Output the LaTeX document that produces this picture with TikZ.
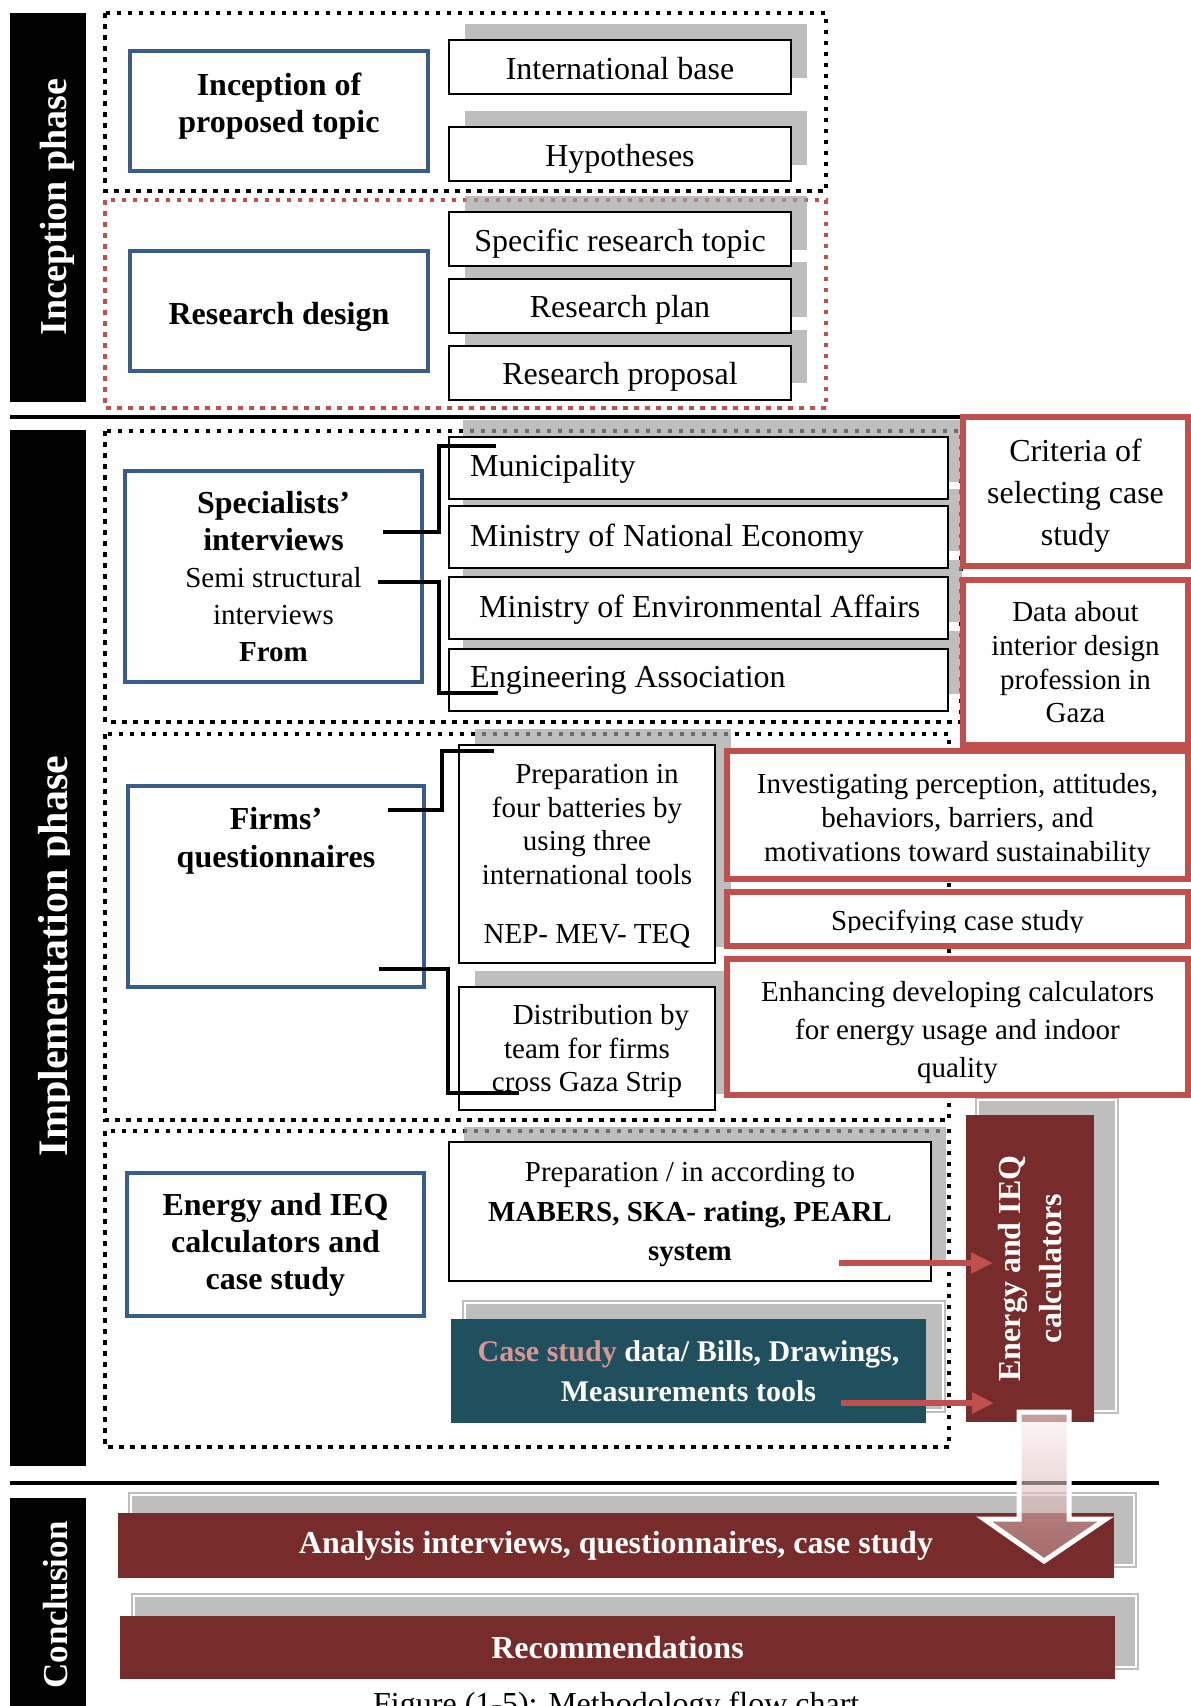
\documentclass[tikz,border=0pt]{standalone}
\usepackage{fontspec}
\setmainfont{Liberation Serif}
\usetikzlibrary{arrows.meta}
\definecolor{blueC}{RGB}{56,93,138}
\definecolor{redC}{RGB}{192,80,77}
\definecolor{maroonC}{RGB}{119,43,43}
\definecolor{tealC}{RGB}{32,80,93}
\definecolor{pinkC}{RGB}{217,150,148}
\definecolor{shadeC}{RGB}{160,160,160}
\definecolor{arrTop}{RGB}{252,240,240}
\definecolor{arrBot}{RGB}{200,150,150}
\newcommand\fsL{\fontsize{32}{37}\selectfont}
\newcommand\ghostrect[4]{\fill[shad] (#1,#2) rectangle (#3,#4);
  \draw[white, line width=1.2pt] (#1+3,#2+3) rectangle (#3-3,#4-3);}
\tikzset{
 wbox/.style={draw=black, line width=2pt, fill=white, inner sep=0pt, align=center, font=\fsL},
 bbox/.style={draw=blueC, line width=4.5pt, fill=white, inner sep=0pt, align=center, font=\fsL\bfseries},
 rbox/.style={draw=redC, line width=5.5pt, fill=white, inner sep=0pt, align=center},
 mbox/.style={fill=maroonC, inner sep=0pt, align=center, text=white, font=\fsL\bfseries},
 txt/.style={inner sep=0pt, align=center},
 rowtxt/.style={inner sep=0pt, anchor=base west, font=\fsL},
 onerow/.style={text height=24pt, text depth=0pt},
 phasetext/.style={rotate=90, anchor=base, text=white, inner sep=0pt},
 blackdots/.style={draw=black, line width=4.4pt, dash pattern=on 4.5pt off 6.5pt},
 reddots/.style={draw=redC, line width=4.4pt, dash pattern=on 4.5pt off 6.5pt},
 conn/.style={draw=black, line width=4.5pt},
 redarrow/.style={draw=redC, line width=5.5pt, -{Triangle[length=22pt,width=20pt]}},
 sep/.style={draw=black, line width=4.5pt},
 shad/.style={fill=shadeC, fill opacity=0.68},
}
\begin{document}
\begin{tikzpicture}[x=1pt,y=-1pt]
\useasboundingbox (0,0) rectangle (1191,1706);
\fill[white] (0,0) rectangle (1191,1706);

% phase bars
\fill[black] (10,13) rectangle (86,402);
\node[phasetext, font=\fontsize{38}{38}\selectfont\bfseries] (tInc) at (66,207) {Inception phase};
\fill[black] (10,430) rectangle (86,1466);
\begin{scope}
\clip (10,430) rectangle (69,1466);
\node[phasetext, font=\fontsize{42}{42}\selectfont\bfseries] (tImp) at (67,956) {Implementation phase};
\end{scope}
\fill[black] (10,1498) rectangle (86,1706);
\node[phasetext, font=\fontsize{35}{35}\selectfont\bfseries] (tCon) at (67,1605) {Conclusion};

% separators
\draw[sep] (10,417) -- (1188,417);
\draw[sep] (10,1483) -- (1159,1483);

% dotted group frames
\draw[blackdots] (105,13) rectangle (826,191);
\draw[reddots] (105,200) rectangle (826,408);
\draw[blackdots] (105,431) rectangle (961,722);
\draw[blackdots] (105,734) rectangle (949,1120);
\draw[blackdots] (105,1131) rectangle (949,1447);

% shadows
\fill[shad] (465,24) rectangle (807,78);
\fill[shad] (465,111) rectangle (807,165);
\fill[shad] (465,196) rectangle (807,250);
\fill[shad] (465,262) rectangle (807,317);
\fill[shad] (465,330) rectangle (807,383);
\fill[shad] (463,420) rectangle (962,482);
\fill[shad] (463,489) rectangle (962,551);
\fill[shad] (463,560) rectangle (962,622);
\fill[shad] (463,631) rectangle (962,694);
\fill[shad] (475,729) rectangle (731,947);
\fill[shad] (475,971) rectangle (731,1094);
\fill[shad] (464,1127) rectangle (946,1266);
\ghostrect{462}{1300}{946}{1413}
\ghostrect{975}{1097}{1119}{1414}
\ghostrect{128}{1492}{1137}{1568}
\ghostrect{131}{1593}{1139}{1670}

% inception phase
\node[bbox, minimum width=298pt, minimum height=120pt] (inc) at (279,111) {};
\node[txt, font=\fsL\bfseries] (inct) at (279,106) {Inception of\\proposed topic};
\node[bbox, minimum width=298pt, minimum height=120pt] (rd) at (279,311) {};
\node[txt, font=\fsL\bfseries] (rdt) at (279,316.5) {Research design};
\node[wbox, onerow, minimum width=342pt, minimum height=54pt] (ib) at (620,67) {International base};
\node[wbox, onerow, minimum width=342pt, minimum height=54pt] (hyp) at (620,154) {Hypotheses};
\node[wbox, onerow, minimum width=342pt, minimum height=54pt] (srt) at (620,239) {Specific research topic};
\node[wbox, onerow, minimum width=342pt, minimum height=54pt] (rp) at (620,305.5) {Research plan};
\node[wbox, onerow, minimum width=342pt, minimum height=54pt] (rpr) at (620,372.5) {Research proposal};

% specialists
\node[bbox, minimum width=297pt, minimum height=211pt] (sp) at (273.5,576.5)
 {Specialists’\\interviews\\{\fontsize{29}{37}\selectfont\mdseries Semi structural}\\{\fontsize{29}{37}\selectfont\mdseries interviews}\\{\fontsize{29}{37}\selectfont From}};
\node[wbox, minimum width=499pt, minimum height=62pt] (mun) at (698.5,468) {};
\node[rowtxt] (munt) at (470,476.5) {Municipality};
\node[wbox, minimum width=499pt, minimum height=62pt] (mne) at (698.5,537) {};
\node[rowtxt] (mnet) at (470,546) {Ministry of National Economy};
\node[wbox, minimum width=499pt, minimum height=62pt] (mea) at (698.5,608) {};
\node[rowtxt] (meat) at (479,617) {Ministry of Environmental Affairs};
\node[wbox, minimum width=499pt, minimum height=62pt] (ea) at (698.5,679.5) {};
\node[rowtxt] (eat) at (470,687.5) {Engineering Association};

% firms
\node[bbox, minimum width=296pt, minimum height=201pt] (fq) at (276,886.5) {};
\node[txt, font=\fontsize{32}{38}\selectfont\bfseries] (fqt) at (276,841) {Firms’\\questionnaires};
\node[wbox, minimum width=256pt, minimum height=218pt] (pb) at (587,854) {};
\node[txt, font=\fontsize{29}{33.7}\selectfont] (pbt) at (587,856)
 {\hspace*{20pt}Preparation in\\four batteries by\\using three\\international tools\\[25pt]NEP- MEV- TEQ};
\node[wbox, minimum width=256pt, minimum height=123pt] (db) at (587,1048.5) {};
\node[txt, font=\fontsize{29}{33.5}\selectfont] (dbt) at (587,1051.5)
 {\hspace*{28pt}Distribution by\\team for firms\\cross Gaza Strip};

% energy
\node[bbox, minimum width=297pt, minimum height=143pt] (eq) at (275.5,1244.5) {Energy and IEQ\\calculators and\\case study};
\node[wbox, line width=2.8pt, minimum width=482pt, minimum height=139pt] (mab) at (690,1211.5) {};
\node[txt, font=\fontsize{29}{39.5}\selectfont] (mabt) at (690,1214.5)
 {Preparation / in according to\\{\bfseries MABERS, SKA- rating, PEARL}\\{\bfseries system}};
\node[fill=tealC, inner sep=0pt, align=center, text=white, minimum width=475pt, minimum height=104pt, font=\fontsize{30}{40}\selectfont\bfseries] (cs) at (688.5,1371)
 {{\color{pinkC}Case study} data/ Bills, Drawings,\\Measurements tools};

% red boxes
\node[rbox, minimum width=225pt, minimum height=149pt] (crit) at (1075.5,491.5) {};
\node[txt, font=\fontsize{32}{42}\selectfont] (critt) at (1075.5,496) {Criteria of\\selecting case\\study};
\node[rbox, minimum width=225pt, minimum height=165pt, font=\fontsize{29}{33.7}\selectfont] (data) at (1075.5,662.5) {Data about\\interior design\\profession in\\Gaza};
\node[rbox, minimum width=461pt, minimum height=128pt] (inv) at (957.5,815) {};
\node[txt, font=\fontsize{29}{34}\selectfont] (invt) at (957.5,821)
 {Investigating perception, attitudes,\\behaviors, barriers, and\\motivations toward sustainability};
\node[rbox, minimum width=461pt, minimum height=54pt] (spec) at (957.5,919) {};
\begin{scope}
\clip (730,895) rectangle (1185,932.5);
\node[anchor=base, inner sep=0pt, font=\fontsize{29}{34}\selectfont] (spect) at (957.5,930) {Specifying case study};
\end{scope}
\node[rbox, minimum width=461pt, minimum height=136pt] (enh) at (957.5,1027) {};
\node[txt, font=\fontsize{29}{38}\selectfont] (enht) at (957.5,1033)
 {Enhancing developing calculators\\for energy usage and indoor\\quality};

% maroon calculators box
\node[mbox, rotate=90, minimum width=307pt, minimum height=128pt, font=\fontsize{32}{41}\selectfont\bfseries] (cal) at (1030,1268.5) {Energy and IEQ\\calculators};

% conclusion boxes
\node[mbox, minimum width=996pt, minimum height=65pt] (ana) at (616,1545.5) {Analysis interviews, questionnaires, case study};
\node[mbox, minimum width=995pt, minimum height=63pt] (rec) at (617.5,1647.5) {Recommendations};

% connectors
\coordinate (s1) at (383,532); \coordinate (s1v) at (439,446); \coordinate (s1e) at (496,446);
\draw[conn] (s1) -| (s1v) -- (s1e);
\coordinate (s2) at (378,582); \coordinate (s2v) at (439,693); \coordinate (s2e) at (498,693);
\draw[conn] (s2) -| (s2v) -- (s2e);
\coordinate (f1) at (388,810); \coordinate (f1v) at (442,751); \coordinate (f1e) at (494,751);
\draw[conn] (f1) -| (f1v) -- (f1e);
\coordinate (f2) at (379,969); \coordinate (f2v) at (448,1093); \coordinate (f2e) at (519,1093);
\draw[conn] (f2) -| (f2v) -- (f2e);

% red arrows
\coordinate (a1s) at (839,1263); \coordinate (a1e) at (993,1263);
\draw[redarrow] (a1s) -- (a1e);
\coordinate (a2s) at (841,1403); \coordinate (a2e) at (994,1403);
\draw[redarrow] (a2s) -- (a2e);

% block arrow down
\shade[top color=arrTop, bottom color=arrBot, opacity=0.6]
 (1019,1412) -- (1069,1412) -- (1069,1519) -- (1106,1519) -- (1044,1561) -- (984,1519) -- (1019,1519) -- cycle;
\draw[white, line width=5pt, line join=miter]
 (1019,1412) -- (1069,1412) -- (1069,1519) -- (1106,1519) -- (1044,1561) -- (984,1519) -- (1019,1519) -- cycle;

% caption (cut by the page edge, as in the reference)
\node[anchor=base west, inner sep=0pt, font=\fontsize{32}{32}\selectfont] (cap) at (373,1714) {Figure (1-5): Methodology flow chart};
\end{tikzpicture}
\end{document}
